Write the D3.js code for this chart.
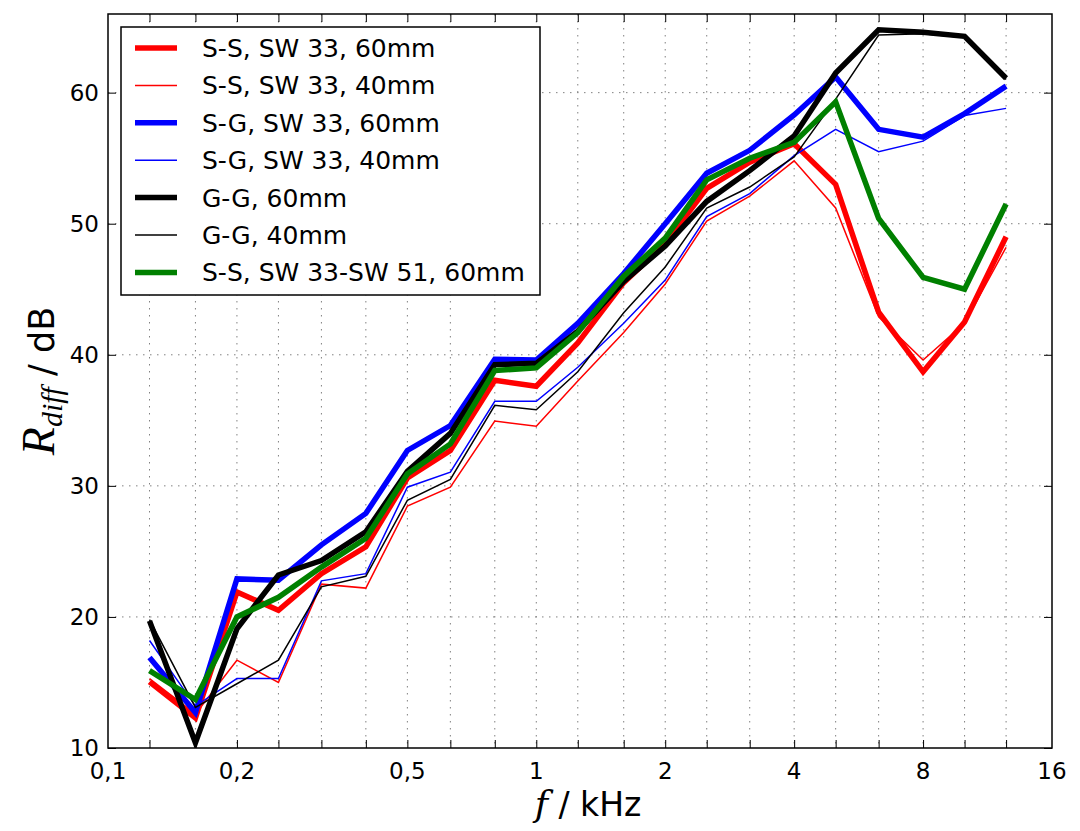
<!DOCTYPE html>
<html><head><meta charset="utf-8">
<script src="https://cdn.jsdelivr.net/npm/d3@7/dist/d3.min.js"></script>
<style>
html,body{margin:0;padding:0;background:#fff;}
svg{display:block;}
text{font-family:"DejaVu Sans",sans-serif;fill:#000;}
</style></head>
<body>
<svg id="chart" width="1080" height="831"></svg>
<script>
// Third-octave band centre frequencies (kHz)
const freqs = [0.125,0.16,0.2,0.25,0.315,0.4,0.5,0.63,0.8,1,1.25,1.6,2,2.5,3.15,4,5,6.3,8,10,12.5];

const ssSW33_60 = [15.05,12.3,21.9,20.5,23.3,25.35,30.6,32.7,38.05,37.6,40.9,45.5,48.5,52.7,54.7,56.1,53.0,43.25,38.7,42.5,49.0];
const ssSW33_40 = [15.3,12.6,16.7,15.0,22.5,22.2,28.45,29.9,34.95,34.55,38.0,41.7,45.4,50.2,52.1,54.8,51.2,42.9,39.6,42.4,48.2];
const sgSW33_60 = [16.9,12.7,22.9,22.8,25.5,27.9,32.7,34.6,39.65,39.6,42.4,46.2,50.0,53.85,55.6,58.3,61.2,57.2,56.6,58.4,60.5];
const sgSW33_40 = [18.2,13.2,15.3,15.3,22.75,23.3,29.9,31.05,36.45,36.45,39.05,42.4,45.7,50.55,52.3,55.2,57.2,55.5,56.3,58.25,58.8];
const gg60      = [19.7,10.4,19.1,23.2,24.3,26.5,31.1,34.0,39.25,39.35,41.8,45.6,48.3,51.7,54.05,56.7,61.5,64.8,64.6,64.3,61.1];
const gg40      = [19.8,13.1,14.9,16.7,22.3,23.1,28.9,30.5,36.15,35.8,38.7,43.2,46.7,51.2,52.8,55.1,59.5,64.4,64.5,64.2,61.0];
const ssSW3351_60 = [15.9,13.7,20.0,21.5,23.8,26.0,30.9,33.2,38.8,39.0,41.7,46.0,48.9,53.35,55.0,56.2,59.3,50.4,45.9,45.0,51.5];

const seriesNames = ["S-S, SW 33, 60mm","S-S, SW 33, 40mm","S-G, SW 33, 60mm","S-G, SW 33, 40mm","G-G, 60mm","G-G, 40mm","S-S, SW 33-SW 51, 60mm"];
const seriesValues = [ssSW33_60, ssSW33_40, sgSW33_60, sgSW33_40, gg60, gg40, ssSW3351_60];
const seriesColors = ["#ff0000","#ff0000","#0000ff","#0000ff","#000000","#000000","#008000"];
const seriesWidths = [5.5,1.5,5.5,1.5,5.5,1.5,5.5];

const xTickValues = [0.1,0.2,0.5,1,2,4,8,16];
const xTickLabels = ["0,1","0,2","0,5","1","2","4","8","16"];
const yTickValues = [10,20,30,40,50,60];
const xDomain = [0.1,16];
const yDomain = [10,66];

const svg = d3.select("#chart");
const L = 108, R = 1052, T = 14, B = 748;
const x = d3.scaleLog().domain(xDomain).range([L,R]);
const y = d3.scaleLinear().domain(yDomain).range([B,T]);

// grid
const grid = svg.append("g");
grid.selectAll("line.vg").data(freqs).enter().append("line")
  .attr("x1",d=>x(d)).attr("x2",d=>x(d)).attr("y1",T).attr("y2",B)
  .attr("stroke","#808080").attr("stroke-width",1).attr("stroke-dasharray","1.5,5.5");
grid.selectAll("line.hg").data(yTickValues.filter(v=>v>yDomain[0])).enter().append("line")
  .attr("x1",L).attr("x2",R).attr("y1",d=>y(d)).attr("y2",d=>y(d))
  .attr("stroke","#808080").attr("stroke-width",1).attr("stroke-dasharray","1.5,5.5");

// ticks (inward) via axes
const tickLen = 8;
const xb = d3.axisBottom(x).tickValues(freqs).tickSize(-tickLen).tickFormat("");
const xt = d3.axisTop(x).tickValues(freqs).tickSize(-tickLen).tickFormat("");
const yl = d3.axisLeft(y).tickValues(yTickValues).tickSize(-tickLen).tickFormat("");
const yr = d3.axisRight(y).tickValues(yTickValues).tickSize(-tickLen).tickFormat("");
function styleAxis(g){ g.select(".domain").remove(); g.selectAll(".tick line").attr("stroke","#000").attr("stroke-width",1); }
svg.append("g").attr("transform",`translate(0,${B})`).call(xb).call(styleAxis);
svg.append("g").attr("transform",`translate(0,${T})`).call(xt).call(styleAxis);
svg.append("g").attr("transform",`translate(${L},0)`).call(yl).call(styleAxis);
svg.append("g").attr("transform",`translate(${R},0)`).call(yr).call(styleAxis);

// tick labels
svg.append("g").selectAll("text").data(xTickValues).enter().append("text")
  .attr("x",d=>x(d)).attr("y",B+31).attr("text-anchor","middle")
  .attr("font-size",23).text((d,i)=>xTickLabels[i]);
svg.append("g").selectAll("text").data(yTickValues).enter().append("text")
  .attr("x",L-9).attr("y",d=>y(d)+8).attr("text-anchor","end")
  .attr("font-size",23).text(d=>d);

// lines
const clipId = "plotclip";
svg.append("clipPath").attr("id",clipId).append("rect").attr("x",L).attr("y",T).attr("width",R-L).attr("height",B-T);
const line = d3.line().x((d,i)=>x(freqs[i])).y(d=>y(d));
const lg = svg.append("g").attr("clip-path",`url(#${clipId})`);
seriesValues.forEach((vals,k)=>{
  lg.append("path").datum(vals).attr("d",line)
    .attr("fill","none").attr("stroke",seriesColors[k]).attr("stroke-width",seriesWidths[k])
    .attr("stroke-linejoin","miter").attr("stroke-miterlimit",10).attr("stroke-linecap","butt");
});

// frame
svg.append("rect").attr("x",L).attr("y",T).attr("width",R-L).attr("height",B-T)
  .attr("fill","none").attr("stroke","#000").attr("stroke-width",1.5);

// legend
const lgX = 121, lgY = 27, lgW = 419, lgH = 268;
const leg = svg.append("g");
leg.append("rect").attr("x",lgX).attr("y",lgY).attr("width",lgW).attr("height",lgH)
  .attr("fill","#fff").attr("stroke","#000").attr("stroke-width",1.5);
seriesNames.forEach((name,k)=>{
  const cy = 48 + k*37.4;
  leg.append("line").attr("x1",135).attr("x2",177).attr("y1",cy).attr("y2",cy)
    .attr("stroke",seriesColors[k]).attr("stroke-width",seriesWidths[k]);
  leg.append("text").attr("x",202).attr("y",cy+9).attr("font-size",25).text(name);
});

// axis labels
const xl = svg.append("text").attr("x",588).attr("y",816).attr("text-anchor","middle").attr("font-size",33);
xl.append("tspan").attr("font-family","'DejaVu Serif',serif").attr("font-style","italic").attr("font-size",36).text("f");
xl.append("tspan").text(" / kHz");

const ylab = svg.append("text").attr("transform","translate(54,381) rotate(-90)").attr("text-anchor","middle").attr("font-size",35);
ylab.append("tspan").attr("font-family","'Liberation Serif',serif").attr("font-style","italic").attr("font-size",46).text("R");
ylab.append("tspan").attr("font-family","'Liberation Serif',serif").attr("font-style","italic").attr("font-size",30).attr("dy",8).text("diff");
ylab.append("tspan").attr("dy",-8).text(" / dB");
</script>
</body></html>
